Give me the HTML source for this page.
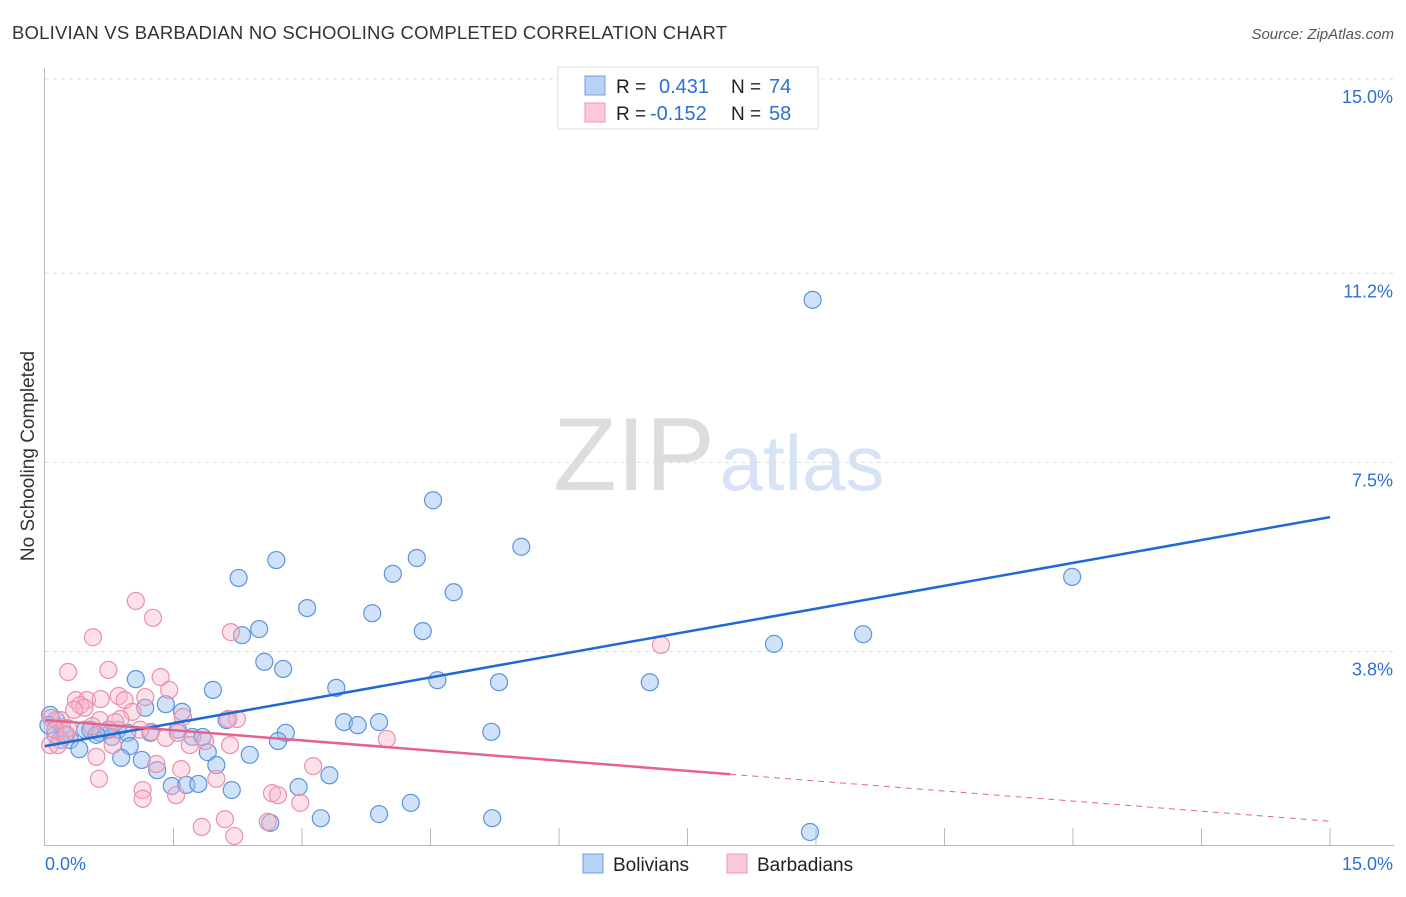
<!DOCTYPE html>
<html><head><meta charset="utf-8"><style>
body{margin:0;background:#fff;font-family:"Liberation Sans",sans-serif;}
svg text{font-family:"Liberation Sans",sans-serif;}
</style></head><body>
<svg id="chart" width="1406" height="892">
<text x="12" y="39" font-size="18.5" fill="#333" textLength="715">BOLIVIAN VS BARBADIAN NO SCHOOLING COMPLETED CORRELATION CHART</text>
<text x="1394" y="39" font-size="15" fill="#555" font-style="italic" text-anchor="end">Source: ZipAtlas.com</text>
<text transform="translate(34,456) rotate(-90)" font-size="19" fill="#333" text-anchor="middle">No Schooling Completed</text>
<g><text x="634" y="490" font-size="104" fill="#ddd" font-family="Liberation Serif" text-anchor="middle">ZIP</text><text x="802" y="490" font-size="78" fill="#d6e3f5" text-anchor="middle">atlas</text></g>
<g id="grid"></g><g id="axes"></g><g id="pts"></g><g id="trend"></g>
<g>
<rect x="558" y="67" width="260" height="62" fill="#fff" stroke="#ddd"/>
<rect x="585" y="76" width="20" height="19" fill="#b8d2f5" stroke="#6f9fe0"/>
<rect x="585" y="103" width="20" height="19" fill="#fcc8d8" stroke="#ee9ab5"/>
<text x="616" y="93" font-size="19" fill="#222">R = </text><text x="659" y="93" font-size="20" fill="#2e6fd6">0.431</text>
<text x="731" y="93" font-size="19" fill="#222">N = </text><text x="769" y="93" font-size="20" fill="#2e6fd6">74</text>
<text x="616" y="120" font-size="19" fill="#222">R = </text><text x="650" y="120" font-size="20" fill="#2e6fd6">-0.152</text>
<text x="731" y="120" font-size="19" fill="#222">N = </text><text x="769" y="120" font-size="20" fill="#2e6fd6">58</text>
</g>
<g>
<rect x="583" y="854" width="20" height="19" fill="#b8d2f5" stroke="#6f9fe0"/>
<text x="613" y="871" font-size="19" fill="#222">Bolivians</text>
<rect x="727" y="854" width="20" height="19" fill="#fcc8d8" stroke="#ee9ab5"/>
<text x="757" y="871" font-size="19" fill="#222">Barbadians</text>
</g>
</svg>
<script>
const bluePx=[[813,300],[433,500],[521,547],[276,560],[239,578],[393,574],[417,558],[454,592],[1072,577],[307,608],[372,613],[259,629],[423,631],[242,635],[863,634],[774,644],[264,662],[283,669],[136,679],[213,690],[336,688],[437,680],[499,682],[650,682],[166,704],[145,708],[182,712],[227,720],[344,722],[358,725],[379,722],[286,733],[491,732],[278,741],[192,737],[203,737],[56,720],[62,727],[85,730],[100,733],[118,730],[127,733],[112,737],[70,740],[79,749],[130,746],[121,758],[142,760],[157,770],[208,752],[216,765],[250,755],[329,775],[299,787],[172,786],[186,785],[198,784],[232,790],[411,803],[379,814],[321,818],[492,818],[270,823],[810,832],[50,715],[55,735],[65,735],[150,733],[178,730],[108,730],[90,730],[96,735],[48,725],[60,740]];
const pinkPx=[[136,601],[153,618],[93,637],[231,632],[661,645],[68,672],[108,670],[161,677],[169,690],[76,700],[87,700],[101,699],[119,696],[125,700],[145,697],[80,705],[84,708],[132,712],[183,717],[237,719],[228,719],[120,719],[100,720],[60,720],[68,728],[51,718],[50,745],[58,745],[96,757],[113,745],[151,732],[166,738],[387,739],[205,741],[178,733],[99,779],[143,790],[181,769],[156,764],[216,779],[313,766],[272,793],[278,795],[300,803],[176,795],[143,799],[202,827],[225,819],[234,836],[268,822],[55,730],[66,735],[140,730],[190,745],[230,745],[92,726],[74,710],[115,722]];
const r2=v=>Math.round(v*100)/100;
const bolX=bluePx.map(p=>r2((p[0]-45)/85.67)), bolY=bluePx.map(p=>r2((845.8-p[1])/51.12));
const barX=pinkPx.map(p=>r2((p[0]-45)/85.67)), barY=pinkPx.map(p=>r2((845.8-p[1])/51.12));
const yTicks=[15.0,11.2,7.5,3.8];
const yTickLabels=["15.0%","11.2%","7.5%","3.8%"];
const blueTrend=[1.95,6.43];
const pinkTrend=[2.46,1.4,0.48];
const X0=45,X1=1330,Y0=845.8,Y1=79;
const sx=v=>X0+v/15*(X1-X0), sy=v=>Y0-v/15*(Y0-Y1);
const NS="http://www.w3.org/2000/svg";
function mk(tag,attrs,parent){const e=document.createElementNS(NS,tag);for(const k in attrs)e.setAttribute(k,attrs[k]);document.getElementById(parent).appendChild(e);return e;}
yTicks.forEach((t,i)=>{
 const g=mk('line',{x1:45,x2:1394,y1:sy(t),y2:sy(t),stroke:'#ddd','stroke-dasharray':'4,4'},'grid');
 
 
 const l=mk('text',{x:1393,y:sy(t)+24,'font-size':18,fill:'#2e6fd6','text-anchor':'end'},'grid');l.textContent=yTickLabels[i];
 
 
});
const ax=mk('line',{x1:44.5,x2:44.5,y1:68,y2:846,stroke:'#bbb'},'axes');


const bx=mk('line',{x1:44,x2:1394,y1:845.5,y2:845.5,stroke:'#bbb'},'axes');


for(let i=1;i<=10;i++){const t=mk('line',{x1:sx(i*1.5),x2:sx(i*1.5),y1:828,y2:845,stroke:'#bbb'},'axes');
 
 }
[["0.0%",45,"start"],["15.0%",1393,"end"]].forEach(a=>{const t=mk('text',{x:a[1],y:870,'font-size':18,fill:'#2e6fd6','text-anchor':a[2]},'axes');t.textContent=a[0];
 
 });
bolX.forEach((x,i)=>{const c=mk('circle',{cx:sx(x),cy:sy(bolY[i]),r:8.5,fill:'rgba(150,190,240,0.45)',stroke:'#5b93df','stroke-width':1.2},'pts');
 
 });
barX.forEach((x,i)=>{const c=mk('circle',{cx:sx(x),cy:sy(barY[i]),r:8.5,fill:'rgba(250,180,200,0.4)',stroke:'#ec8fac','stroke-width':1.2},'pts');
 
 });
const bl=mk('line',{x1:sx(0),y1:sy(blueTrend[0]),x2:sx(15),y2:sy(blueTrend[1]),stroke:'#2068d4','stroke-width':2.5},'trend');


const pl=mk('line',{x1:sx(0),y1:sy(pinkTrend[0]),x2:sx(8),y2:sy(pinkTrend[1]),stroke:'#e5628f','stroke-width':2.5},'trend');


const pd=mk('line',{x1:sx(8),y1:sy(pinkTrend[1]),x2:sx(15),y2:sy(pinkTrend[2]),stroke:'#e5628f','stroke-width':1,'stroke-dasharray':'6,5'},'trend');


</script>
</body></html>
